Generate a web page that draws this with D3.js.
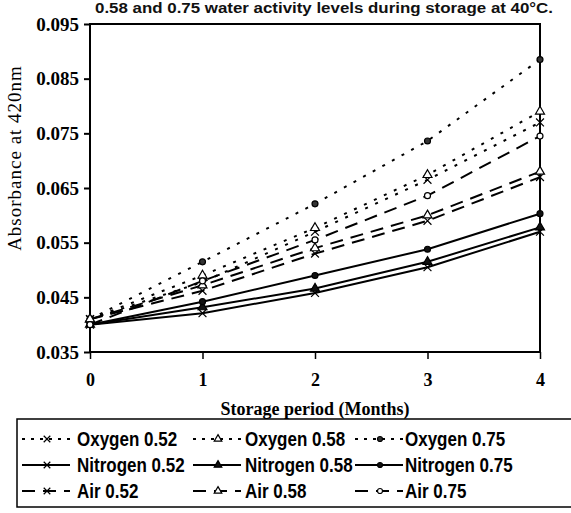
<!DOCTYPE html>
<html>
<head>
<meta charset="utf-8">
<script src="https://cdn.jsdelivr.net/npm/d3@7"></script>
<style>
  body { margin: 0; background: #fff; }
  svg { display: block; }
  .tick text { font-family: "Liberation Serif", "Times New Roman", serif; font-weight: bold; }
</style>
</head>
<body>
<svg id="chart"></svg>
<script>
const months = [0, 1, 2, 3, 4];
const yTicks = [0.035, 0.045, 0.055, 0.065, 0.075, 0.085, 0.095];

// absorbance at 420 nm
const oxygen052 = [0.041, 0.0478, 0.0570, 0.0665, 0.0770];
const oxygen058 = [0.041, 0.0490, 0.0577, 0.0674, 0.0790];
const oxygen075 = [0.041, 0.0515, 0.0621, 0.0736, 0.0885];
const nitrogen052 = [0.040, 0.0421, 0.0458, 0.0505, 0.0570];
const nitrogen058 = [0.040, 0.0432, 0.0466, 0.0515, 0.0578];
const nitrogen075 = [0.040, 0.0442, 0.0490, 0.0538, 0.0603];
const air052 = [0.041, 0.0462, 0.0530, 0.0590, 0.0670];
const air058 = [0.041, 0.0472, 0.0540, 0.0600, 0.0680];
const air075 = [0.040, 0.0480, 0.0555, 0.0636, 0.0745];

const seriesNames = ["Oxygen 0.52", "Oxygen 0.58", "Oxygen 0.75",
                     "Nitrogen 0.52", "Nitrogen 0.58", "Nitrogen 0.75",
                     "Air 0.52", "Air 0.58", "Air 0.75"];
const seriesValues = [oxygen052, oxygen058, oxygen075,
                      nitrogen052, nitrogen058, nitrogen075,
                      air052, air058, air075];

let width = 571;
let height = 513;

let svg = d3.select("#chart")
            .attr("width", width)
            .attr("height", height);

let x = d3.scaleLinear().domain([0, 4]).range([90, 540]);
let y = d3.scaleLinear().domain([0.035, 0.095]).range([352, 24]);

// line style by gas, marker by water activity
const dashFor = (name) => {
    if (name.startsWith("Oxygen")) return "3,8";
    if (name.startsWith("Air")) return "13,8";
    return null;
};
const markerFor = (name) => {
    if (name.endsWith("0.52")) return "x";
    if (name.endsWith("0.58")) return "tri";
    return "circle";
};
const markerFill = (name) => {
    if (name === "Oxygen 0.75") return "#333";
    if (name === "Nitrogen 0.75" || name === "Nitrogen 0.58") return "#111";
    return "#fff";
};

function drawMarker(g, name, cx, cy, s) {
    let type = markerFor(name);
    let sym;
    if (type === "x") sym = d3.symbol().type(d3.symbolTimes).size(s * 6);
    else if (type === "tri") sym = d3.symbol().type(d3.symbolTriangle).size(s * 5);
    else sym = d3.symbol().type(d3.symbolCircle).size(s * 4);
    g.append("path")
        .attr("d", sym())
        .attr("transform", `translate(${cx},${cy})`)
        .attr("fill", type === "x" ? "none" : markerFill(name))
        .attr("stroke", "#000")
        .attr("stroke-width", 1.2);
}

// title (top line cut off in the original)
svg.append("text")
    .attr("x", 95)
    .attr("y", 13)
    .attr("textLength", 458)
    .attr("lengthAdjust", "spacingAndGlyphs")
    .attr("font-family", "Liberation Sans, Arial, sans-serif")
    .attr("font-weight", "bold")
    .attr("font-size", 14)
    .attr("fill", "#111")
    .text("0.58 and 0.75 water activity levels during storage at 40°C.");

// axes
let yAxis = svg.append("g")
    .attr("transform", "translate(90,0)")
    .call(d3.axisLeft(y).tickValues(yTicks).tickSize(6).tickPadding(5).tickFormat(d3.format(".3f")));
yAxis.selectAll("text").attr("font-size", 19).attr("fill", "#000");
yAxis.selectAll("line").attr("stroke-width", 2);
yAxis.select(".domain").remove();

let xAxis = svg.append("g")
    .attr("transform", "translate(0,352)")
    .call(d3.axisBottom(x).tickValues(months).tickSize(7).tickPadding(14).tickFormat(d3.format("d")));
xAxis.selectAll("text").attr("font-size", 18).attr("fill", "#000");
xAxis.selectAll("line").attr("stroke-width", 1.5);
xAxis.select(".domain").remove();

// plot frame
svg.append("rect")
    .attr("x", x(0))
    .attr("y", y(0.095))
    .attr("width", x(4) - x(0))
    .attr("height", y(0.035) - y(0.095))
    .attr("fill", "none")
    .attr("stroke", "#000")
    .attr("stroke-width", 2);

// axis titles
svg.append("text")
    .attr("x", 315)
    .attr("y", 415)
    .attr("text-anchor", "middle")
    .attr("font-family", "Liberation Serif, Times New Roman, serif")
    .attr("font-weight", "bold")
    .attr("font-size", 18)
    .text("Storage period (Months)");

svg.append("text")
    .attr("transform", "translate(21,158) rotate(-90)")
    .attr("text-anchor", "middle")
    .attr("font-family", "Liberation Serif, Times New Roman, serif")
    .attr("font-size", 19)
    .attr("letter-spacing", 1)
    .text("Absorbance at 420nm");

// series
let line = d3.line()
    .x((d, i) => x(months[i]))
    .y(d => y(d));

let plot = svg.append("g");
seriesNames.forEach((name, k) => {
    let vals = seriesValues[k];
    plot.append("path")
        .attr("d", line(vals))
        .attr("fill", "none")
        .attr("stroke", "#000")
        .attr("stroke-width", 2)
        .attr("stroke-dasharray", dashFor(name));
    vals.forEach((v, i) => drawMarker(plot, name, x(months[i]), y(v), 7));
});

// legend
const legCols = [22, 193, 355];
const legText = [77, 245, 405];
const legRows = [439, 465, 491];

svg.append("rect")
    .attr("x", 17)
    .attr("y", 419)
    .attr("width", 570)
    .attr("height", 88)
    .attr("fill", "none")
    .attr("stroke", "#000")
    .attr("stroke-width", 1.5);

let legend = svg.append("g");
seriesNames.forEach((name, k) => {
    let col = k % 3;
    let row = Math.floor(k / 3);
    let x0 = legCols[col];
    let ly = legRows[row];
    legend.append("line")
        .attr("x1", x0)
        .attr("x2", x0 + 48)
        .attr("y1", ly)
        .attr("y2", ly)
        .attr("stroke", "#000")
        .attr("stroke-width", 2)
        .attr("stroke-dasharray", dashFor(name) ? (name.startsWith("Oxygen") ? "3,6" : "13,8") : null);
    drawMarker(legend, name, x0 + 25, ly, 5);
    legend.append("text")
        .attr("transform", `translate(${legText[col]},${ly + 7}) scale(1,1.2)`)
        .attr("font-family", "Liberation Sans, Arial, sans-serif")
        .attr("font-weight", "bold")
        .attr("font-size", 17)
        .text(name);
});
</script>
</body>
</html>
